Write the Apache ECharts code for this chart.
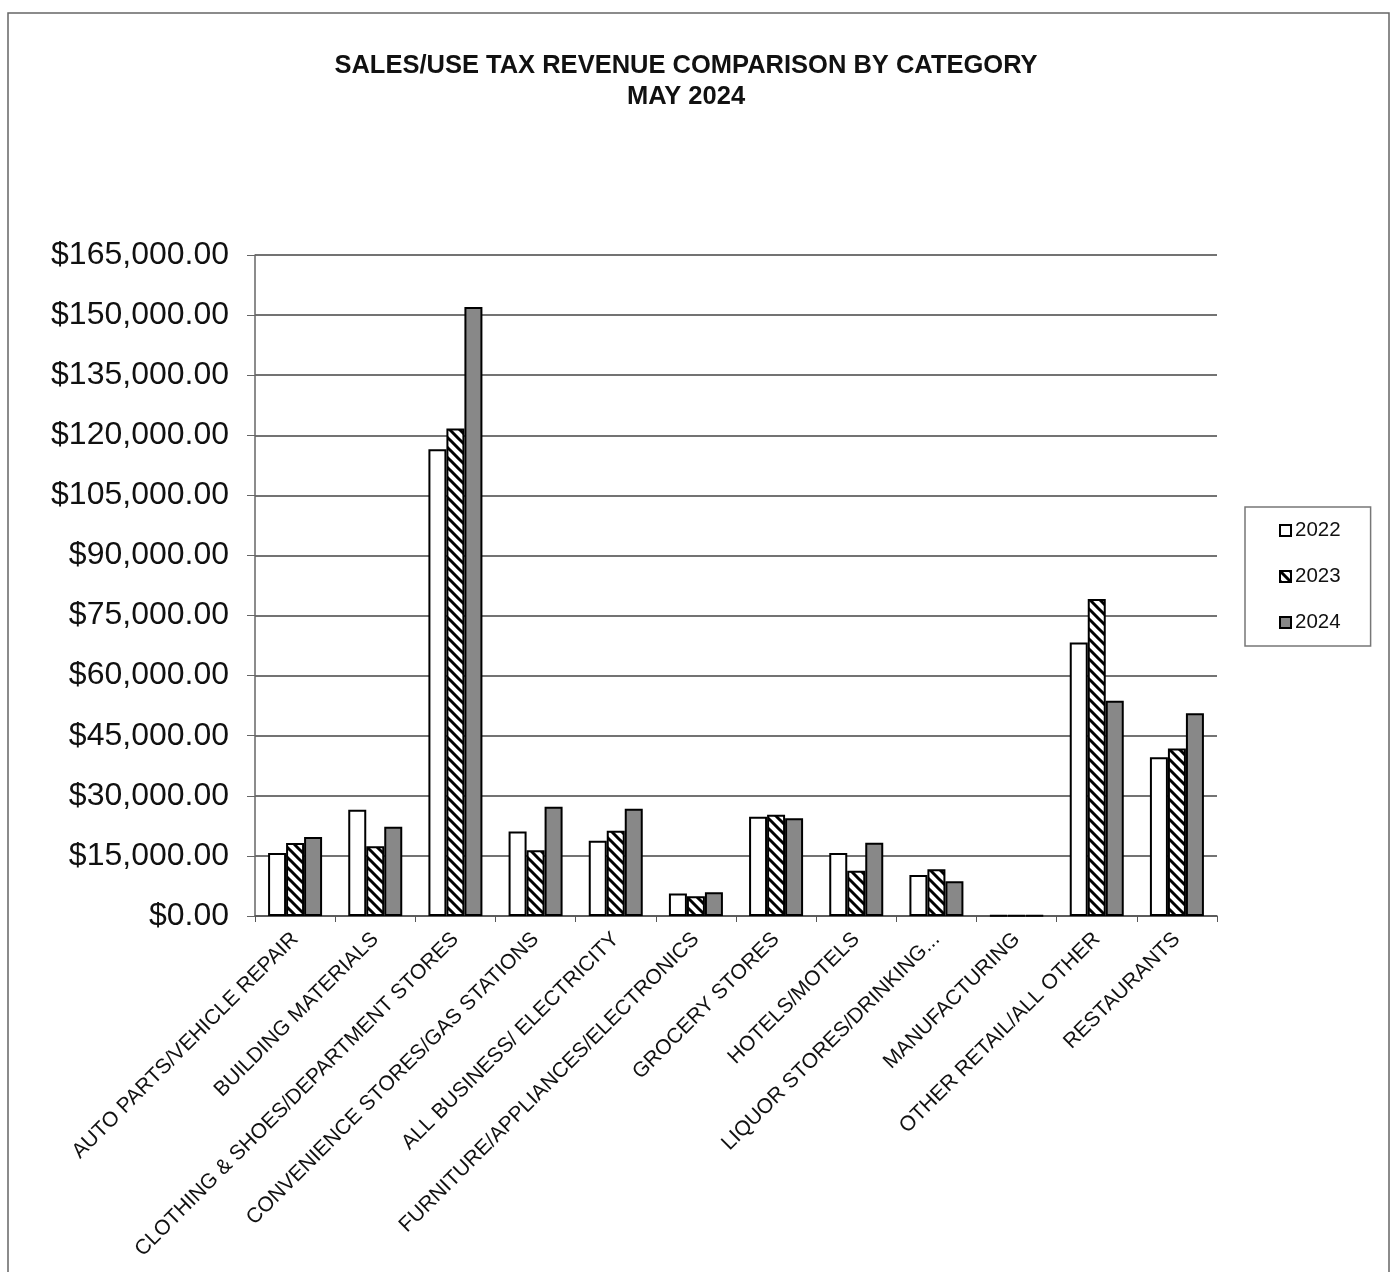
<!DOCTYPE html>
<html>
<head>
<meta charset="utf-8">
<script src="https://cdn.jsdelivr.net/npm/echarts@6/dist/echarts.min.js"></script>
<style>
  html, body { margin: 0; padding: 0; background: #fff; }
  #chart { width: 1393px; height: 1272px; }
</style>
</head>
<body>
<div id="chart"></div>
<script>
// categories and values
const categories = [
  'AUTO PARTS/VEHICLE REPAIR',
  'BUILDING MATERIALS',
  'CLOTHING & SHOES/DEPARTMENT STORES',
  'CONVENIENCE STORES/GAS STATIONS',
  'ALL BUSINESS/ ELECTRICITY',
  'FURNITURE/APPLIANCES/ELECTRONICS',
  'GROCERY STORES',
  'HOTELS/MOTELS',
  'LIQUOR STORES/DRINKING...',
  'MANUFACTURING',
  'OTHER RETAIL/ALL OTHER',
  'RESTAURANTS'
]
const years = ['2022', '2023', '2024']
const values2022 = [15750, 26500, 116500, 21100, 18800, 5600, 24750, 15750, 10250, 150, 68300, 39600]
const values2023 = [18250, 17400, 121700, 16400, 21300, 4900, 25300, 11300, 11700, 150, 79100, 41800]
const values2024 = [19750, 22300, 152000, 27300, 26800, 5900, 24400, 18300, 8650, 150, 53750, 50600]

// diagonal hatch for 2023
const makeHatch = () => {
  const c = document.createElement('canvas')
  c.width = 10
  c.height = 10
  const ctx = c.getContext('2d')
  ctx.fillStyle = '#fff'
  ctx.fillRect(0, 0, 10, 10)
  ctx.strokeStyle = '#000'
  ctx.lineWidth = 3
  ctx.beginPath()
  ctx.moveTo(-2, -2); ctx.lineTo(12, 12)
  ctx.moveTo(-2, 8); ctx.lineTo(2, 12)
  ctx.moveTo(8, -2); ctx.lineTo(12, 2)
  ctx.stroke()
  return c
}

const chart = echarts.init(document.getElementById('chart'), null, { renderer: 'canvas' })

const money = v => '$' + v.toLocaleString('en-US', { minimumFractionDigits: 2, maximumFractionDigits: 2 })

const barBase = {
  type: 'bar',
  barWidth: 18,
  barGap: '0%',
  animation: false
}

const option = {
  backgroundColor: '#fff',
  textStyle: { fontFamily: 'Liberation Sans, Arial, sans-serif' },
  title: {
    text: 'SALES/USE TAX REVENUE COMPARISON BY CATEGORY\nMAY 2024',
    left: 681,
    top: 45,
    textAlign: 'center',
    textStyle: {
      fontFamily: 'Liberation Sans Narrow, Liberation Sans, Arial, sans-serif',
      fontSize: 25.5,
      fontWeight: 'bold',
      color: '#111',
      lineHeight: 31
    }
  },
  graphic: [
    {
      type: 'rect',
      shape: { x: 8, y: 13, width: 1381, height: 1300 },
      style: { fill: 'none', stroke: '#666', lineWidth: 1.5 }
    }
  ],
  legend: {
    orient: 'vertical',
    left: 1245,
    top: 507,
    padding: [13, 30, 13, 34],
    itemGap: 25,
    itemWidth: 11,
    itemHeight: 11,
    borderColor: '#777',
    borderWidth: 1.5,
    icon: 'rect',
    itemStyle: { borderColor: '#000', borderWidth: 2 },
    textStyle: { fontSize: 20.5, color: '#111', padding: [0, 0, 0, -1] },
    data: years
  },
  grid: {
    left: 255,
    right: 176,
    top: 255,
    bottom: 356
  },
  xAxis: {
    type: 'category',
    data: categories,
    axisLine: { lineStyle: { color: '#555', width: 1.5 } },
    axisTick: { show: true, length: 6, lineStyle: { color: '#555' } },
    axisLabel: {
      rotate: 45,
      interval: 0,
      fontSize: 21,
      color: '#111',
      margin: 20
    }
  },
  yAxis: {
    type: 'value',
    min: 0,
    max: 165000,
    interval: 15000,
    axisLine: { show: true, lineStyle: { color: '#666', width: 1.5 } },
    axisTick: { show: true, length: 8, lineStyle: { color: '#666' } },
    splitLine: { lineStyle: { color: '#444', width: 1.5 } },
    axisLabel: {
      fontSize: 32,
      color: '#111',
      margin: 26,
      formatter: v => money(v)
    }
  },
  series: [
    {
      ...barBase,
      name: '2022',
      data: values2022,
      itemStyle: { color: '#fff', borderColor: '#000', borderWidth: 2 }
    },
    {
      ...barBase,
      name: '2023',
      data: values2023,
      itemStyle: {
        color: { image: makeHatch(), repeat: 'repeat' },
        borderColor: '#000',
        borderWidth: 2
      }
    },
    {
      ...barBase,
      name: '2024',
      data: values2024,
      itemStyle: { color: '#888', borderColor: '#000', borderWidth: 2 }
    }
  ]
}

chart.setOption(option)
</script>
</body>
</html>
